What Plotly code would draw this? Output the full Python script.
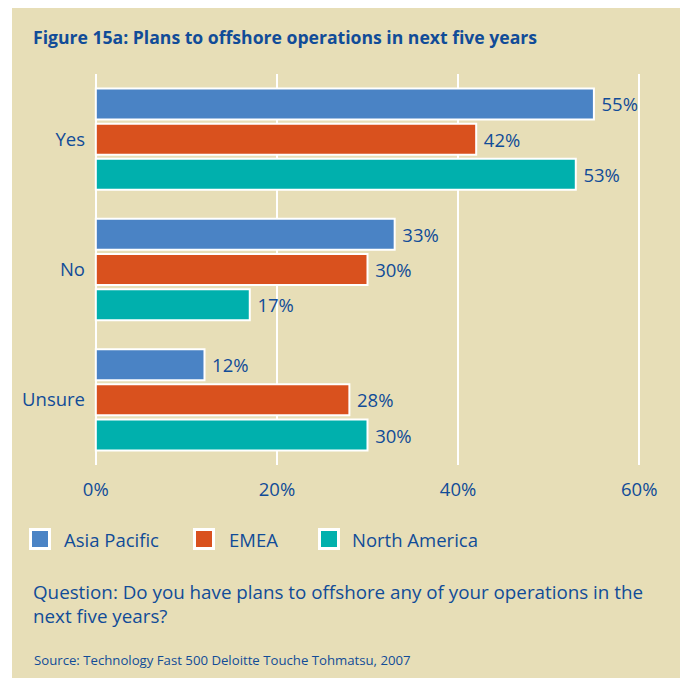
import plotly.graph_objects as go

# Survey answers and regional shares (%)
answers = ["Yes", "No", "Unsure"]
regions = ["Asia Pacific", "EMEA", "North America"]
asia_pacific = [55, 33, 12]
emea = [42, 30, 28]
north_america = [53, 17, 30]
x_ticks = [0, 20, 40, 60]
x_tick_labels = ["0%", "20%", "40%", "60%"]

colors = ["#4A83C5", "#D9511E", "#00B0AD"]
ink = "#114C98"
panel = "#E7DEB7"
font_family = "Open Sans, Noto Sans, sans-serif"

W, H = 680, 682
# plot area in pixels
PL, PR, PT, PB = 94, 641, 74, 465
X0, X1 = -0.2, 60.2


def px(pix):
    # pixel column -> paper x
    return (pix - PL) / (PR - PL)


def py(pix):
    # pixel row -> paper y
    return (PB - pix) / (PB - PT)


fig = go.Figure()
for name, vals, col in zip(regions, [asia_pacific, emea, north_america], colors):
    fig.add_trace(go.Bar(
        name=name,
        y=answers,
        x=vals,
        orientation="h",
        marker=dict(color=col, line=dict(color="white", width=2)),
        text=[f"\u2005{v}%" for v in vals],
        textposition="outside",
        textfont=dict(color=ink, size=18.5, family=font_family),
        cliponaxis=False,
        showlegend=False,
    ))

# beige panel behind everything
fig.add_shape(type="rect", xref="paper", yref="paper",
              x0=px(12), x1=px(682), y0=py(678), y1=py(8),
              fillcolor=panel, line=dict(width=0), layer="below")

# legend: swatches with white frame and labels
legend_swatch_x = [40, 204, 329]
legend_text_x = [62, 227, 350]
for name, col, sx, tx in zip(regions, colors, legend_swatch_x, legend_text_x):
    fig.add_shape(type="rect", xref="paper", yref="paper",
                  x0=px(sx - 9.5), x1=px(sx + 9.5), y0=py(539 + 9.5), y1=py(539 - 9.5),
                  fillcolor=col, line=dict(color="white", width=3))
    fig.add_annotation(text=name, xref="paper", yref="paper", x=px(tx), y=py(539),
                       xanchor="left", yanchor="middle", showarrow=False,
                       font=dict(size=18.5, color=ink, family=font_family))

fig.add_annotation(text="<b>Figure 15a: Plans to offshore operations in next five years</b>",
                   xref="paper", yref="paper", x=px(31), y=py(37),
                   xanchor="left", yanchor="middle", showarrow=False,
                   font=dict(size=17.6, color=ink, family=font_family))
fig.add_annotation(text="Question: Do you have plans to offshore any of your operations in the<br>next five years?",
                   xref="paper", yref="paper", x=px(31), y=py(577),
                   xanchor="left", yanchor="top", showarrow=False, align="left",
                   font=dict(size=18.8, color=ink, family=font_family))
fig.add_annotation(text="Source: Technology Fast 500 Deloitte Touche Tohmatsu, 2007",
                   xref="paper", yref="paper", x=px(32), y=py(660),
                   xanchor="left", yanchor="middle", showarrow=False,
                   font=dict(size=13.2, color=ink, family=font_family))

fig.update_layout(
    width=W, height=H,
    margin=dict(l=PL, r=W - PR, t=PT, b=H - PB, pad=0),
    paper_bgcolor="white",
    plot_bgcolor=panel,
    barmode="group",
    bargap=0.19,
    bargroupgap=0.12,
    font=dict(family=font_family, color=ink, size=18.5),
    showlegend=False,
)
fig.update_xaxes(range=[X0, X1], tickvals=x_ticks, ticktext=x_tick_labels,
                 showgrid=True, gridcolor="white", gridwidth=2, zeroline=False,
                 showline=False, ticks="", ticklabelstandoff=11,
                 tickfont=dict(size=18.5, color=ink))
fig.update_yaxes(categoryorder="array", categoryarray=answers, autorange="reversed",
                 showgrid=False, zeroline=False, showline=False, ticks="",
                 ticklabelstandoff=8, tickfont=dict(size=18.5, color=ink))

fig.write_html("out.html")
